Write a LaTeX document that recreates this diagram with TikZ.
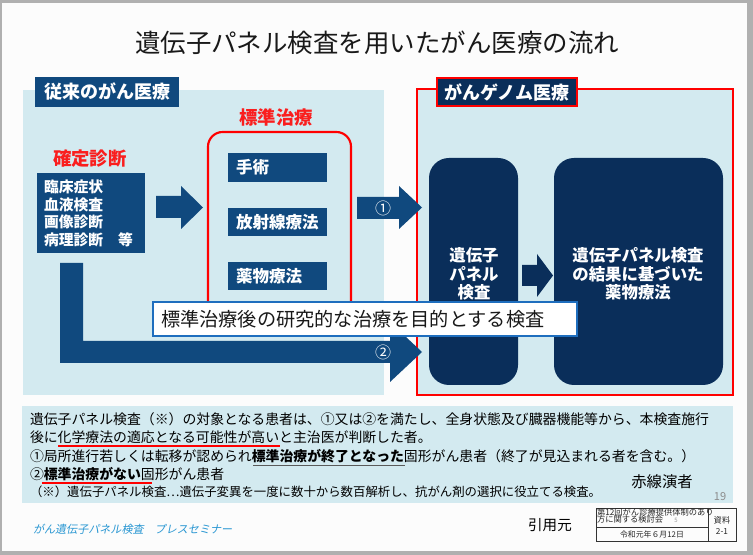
\documentclass[tikz,border=0pt]{standalone}
\usepackage{fontspec}
\setmainfont{Noto Sans CJK JP}
\newfontfamily\slantfont[FakeSlant=0.2]{Noto Sans CJK JP}
\usetikzlibrary{fit}
\definecolor{lblue}{RGB}{211,234,240}
\definecolor{dblue}{RGB}{16,73,126}
\definecolor{navy}{RGB}{10,46,90}
\definecolor{cred}{RGB}{255,0,0}
\definecolor{tred}{RGB}{250,30,30}
\definecolor{frameg}{RGB}{176,176,176}
\definecolor{bgw}{RGB}{252,252,252}
\definecolor{wbord}{RGB}{30,110,190}
\definecolor{ital}{RGB}{40,150,210}
\definecolor{ulgray}{RGB}{90,90,90}
\newcommand{\fsz}[1]{\fontsize{#1}{#1}\selectfont}
\tikzset{
  bx/.style={inner sep=0pt, outer sep=0pt},
  panel/.style={bx, fill=lblue},
  hdrbox/.style={bx, fill=dblue},
  hdrtxt/.style={bx, text=white, font=\fsz{13.5pt}\bfseries},
  itembox/.style={bx, fill=dblue},
  itemtxt/.style={bx, text=white, font=\fsz{12.4pt}\bfseries},
  navybox/.style={bx, fill=navy, rounded corners=15pt},
  navytxt/.style={bx, text=white, align=center, font=\fontsize{12.3pt}{14pt}\selectfont\bfseries},
  redtitle/.style={bx, text=tred, font=\fsz{13.8pt}\bfseries},
  blockarrow/.style={fill=dblue},
  bodytxt/.style={bx, anchor=west, font=\fsz{10.4pt}},
  tbl/.style={draw=black!80, line width=0.5pt},
  tbltxt/.style={bx, font=\fsz{6.2pt}, text=black!85},
}
\begin{document}
\begin{tikzpicture}[x=0.75pt,y=-0.75pt]
\useasboundingbox (0,0) rectangle (753,555);
\fill[frameg] (0,0) rectangle (753,555);
\fill[bgw] (2,3) rectangle (747,551);

% title
\node[bx, font=\fsz{19.1pt}, text=black!90] (title) at (377,43) {遺伝子パネル検査を用いたがん医療の流れ};

% panels
\node[panel, fit={(23,90)(384,395)}] (lpanel) {};
\node[panel, draw=cred, line width=1.6pt, fit={(417,89)(733,395)}] (rpanel) {};
\node[hdrbox, fit={(35,77)(179,107)}] (lhdr) {};
\node[hdrtxt] (lhdrt) at (lhdr.center) {従来のがん医療};
\node[hdrbox, fill=navy, draw=cred, line width=1.3pt, fit={(437,78)(577,106)}] (rhdr) {};
\node[hdrtxt] (rhdrt) at (rhdr.center) {がんゲノム医療};

% standard treatment
\node[redtitle] (stdt) at (276,117) {標準治療};
\node[bx, draw=cred, line width=1.6pt, rounded corners=11pt, fit={(208,132)(351,318)}] (stdbox) {};
\node[itembox, fit={(228,153)(327,182)}] (s1) {};
\node[itembox, fit={(228,208)(327,236)}] (s2) {};
\node[itembox, fit={(228,262)(327,290)}] (s3) {};
\node[itemtxt, anchor=west] (s1t) at ([xshift=6pt]s1.west) {手術};
\node[itemtxt, anchor=west] (s2t) at ([xshift=6pt]s2.west) {放射線療法};
\node[itemtxt, anchor=west] (s3t) at ([xshift=6pt]s3.west) {薬物療法};

% diagnosis
\node[redtitle] (kakutei) at (90,159) {確定診断};
\node[itembox, fit={(37,173)(145,253)}] (diag) {};
\node[bx, anchor=west, align=left, text=white, font=\fontsize{11.1pt}{13.3pt}\selectfont\bfseries] (diagt) at (44,213.5)
  {臨床症状\\血液検査\\画像診断\\病理診断　等};

% arrow diagnosis -> standard treatment
\fill[blockarrow] (156,196) -- (181,196) -- (181,186) -- (203,207.5) -- (181,229) -- (181,218) -- (156,218) -- cycle;

% genome boxes
\node[navybox, fit={(429,158)(518,385)}] (gene) {};
\node[navybox, fit={(554,158)(723,385)}] (drug) {};
\node[navytxt] (genet) at (474,274) {遺伝子\\パネル\\検査};
\node[navytxt] (drugt) at (638,274) {遺伝子パネル検査\\の結果に基づいた\\薬物療法};
\fill[navy] (522,265) -- (537,265) -- (537,254) -- (553,275.5) -- (537,297) -- (537,286) -- (522,286) -- cycle;

% arrow 1 and 2
\fill[blockarrow] (357,197) -- (399,197) -- (399,186) -- (422,207.5) -- (399,229) -- (399,219) -- (357,219) -- cycle;
\node[bx, text=white, font=\fsz{12pt}] (c1) at (383,208) {①};
\fill[blockarrow] (60,263) -- (83,263) -- (83,341) -- (390,341) -- (390,322) -- (422,352) -- (390,382) -- (390,363) -- (60,363) -- cycle;
\node[bx, text=white, font=\fsz{12pt}] (c2) at (383,352) {②};

% white box
\node[bx, fill=white, draw=wbord, line width=1.8pt, fit={(153,302)(577,336)}] (wbox) {};
\node[bx, anchor=west, font=\fsz{14.4pt}, text=black!90] (wboxt) at (161,319) {標準治療後の研究的な治療を目的とする検査};

% bottom panel
\node[panel, fit={(22,406)(733,503)}] (bpanel) {};
\node[bodytxt] (l1) at (30,419) {遺伝子パネル検査（※）の対象となる患者は、①又は②を満たし、全身状態及び臓器機能等から、本検査施行};
\node[bodytxt] (l2) at (30,437.5) {後に化学療法の適応となる可能性が高いと主治医が判断した者。};
\node[bodytxt] (l3) at (30,456.5) {①局所進行若しくは転移が認められ{\bfseries 標準治療が終了となった}固形がん患者（終了が見込まれる者を含む。）};
\node[bodytxt] (l4) at (30,474.5) {②{\bfseries 標準治療がない}固形がん患者};
\node[bodytxt, font=\fsz{9.3pt}] (l5) at (30,491.5) {（※）遺伝子パネル検査…遺伝子変異を一度に数十から数百解析し、抗がん剤の選択に役立てる検査。};
\draw[cred, line width=1.5pt] (58,446.5) -- (280,446.5);
\draw[ulgray, line width=1pt] (253,465.5) -- (405,465.5);
\draw[cred, line width=1.5pt] (42,483.5) -- (152,483.5);
\node[bx, font=\fsz{11.5pt}] (akasen) at (662,482) {赤線演者};
\node[bx, font=\fsz{8.3pt}, text=black!45] (pg) at (720,497) {19};

% footer
\node[bx, anchor=west, text=ital, font=\fsz{8.3pt}\slantfont] (press) at (33,529) {がん遺伝子パネル検査　プレスセミナー};
\node[bx, font=\fsz{10.9pt}] (inyo) at (550,525) {引用元};
\draw[tbl] (596,508) rectangle (736,541);
\draw[tbl] (708,508) -- (708,541);
\draw[tbl] (596,527) -- (708,527);
\node[tbltxt, anchor=west] (t1) at (597,512.5) {第12回がん診療提供体制のあり};
\node[tbltxt, anchor=west] (t2) at (597,519.5) {方に関する検討会};
\node[bx, font=\fsz{4.5pt}, text=black!40] (t5) at (676,520.5) {5};
\node[tbltxt, font=\fsz{5.9pt}] (t3) at (652,534) {令和元年６月12日};
\node[tbltxt] (t4) at (722,520) {資料};
\node[tbltxt] (t6) at (722,531) {2-1};
\end{tikzpicture}
\end{document}
